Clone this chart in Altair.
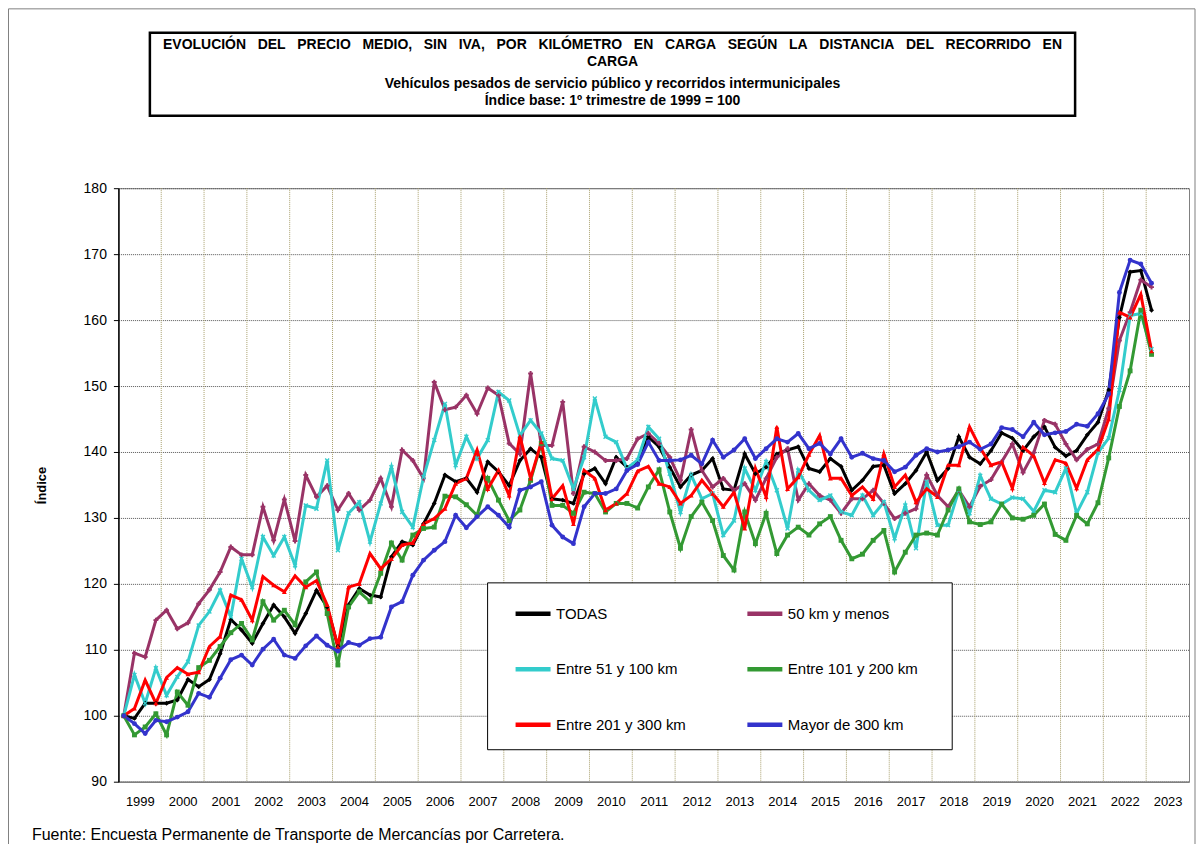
import altair as alt
import pandas as pd

# ---------------- data ----------------
years = list(range(1999, 2024))
quarters = [1, 2, 3, 4]
series_names = ["TODAS", "50 km y menos", "Entre 51 y 100 km",
                "Entre 101 y 200 km", "Entre 201 y 300 km", "Mayor de 300 km"]
series_colors = ["#000000", "#993366", "#33CCCC", "#339933", "#FF0000", "#3333CC"]
series_shapes = ["diamond", "cross",
                 "M-1,-0.6L-0.6,-1L0,-0.4L0.6,-1L1,-0.6L0.4,0L1,0.6L0.6,1L0,0.4L-0.6,1L-1,0.6L-0.4,0Z",
                 "square", "triangle-up", "circle"]

todas = [100, 99.6, 101.9, 101.9, 101.9, 102.4, 105.5, 104.4, 105.5, 109.4,
         114.6, 113.0, 111.0, 114.0, 116.8, 115.0, 112.5, 115.5, 119.0, 116.5,
         110.5, 116.8, 119.3, 118.3, 118.0, 124.1, 126.4, 125.9, 129.1, 132.2,
         136.5, 135.5, 136.0, 133.9, 138.5, 137.0, 134.9, 138.7, 140.5, 139.2,
         132.9, 132.7, 132.2, 136.7, 137.5, 135.2, 139.2, 137.7, 138.2, 142.3,
         140.8, 137.7, 134.7, 136.5, 137.2, 139.0, 134.4, 134.2, 139.7, 136.7,
         137.7, 139.7, 140.3, 140.8, 137.5, 137.0, 139.0, 137.8, 134.2, 135.7,
         137.8, 138.0, 133.7, 135.2, 137.2, 140.0, 135.7, 137.5, 142.3, 139.2,
         138.2, 140.2, 142.9, 142.1, 140.2, 142.3, 143.8, 140.7, 139.4, 140.2,
         142.6, 144.5, 149.4, 160.4, 167.3, 167.5, 161.5]
km50 = [100, 109.5, 108.9, 114.5, 116.0, 113.2, 114.1, 117.0, 119.1, 121.8,
        125.6, 124.4, 124.4, 131.7, 126.6, 132.8, 126.5, 136.5, 133.2, 134.9,
        131.2, 133.7, 131.2, 132.7, 136.0, 131.7, 140.3, 138.7, 136.0, 150.6,
        146.4, 146.8, 148.6, 145.8, 149.7, 148.6, 141.3, 139.7, 151.9, 141.0,
        141.0, 147.6, 133.7, 140.8, 140.0, 138.7, 138.7, 139.0, 142.0, 142.8,
        141.3, 139.2, 135.7, 143.4, 137.2, 134.7, 136.0, 134.2, 135.2, 132.7,
        136.0, 139.2, 140.5, 132.7, 135.2, 133.4, 132.7, 130.7, 132.9, 132.9,
        134.2, 132.2, 129.9, 130.7, 131.4, 136.5, 133.4, 131.7, 134.2, 131.7,
        134.8, 135.8, 138.5, 141.2, 136.9, 139.9, 144.8, 144.2, 141.2, 138.8,
        140.4, 141.2, 146.6, 156.9, 161.2, 166.1, 165.0]
km51_100 = [100, 106.2, 101.9, 107.2, 103.1, 105.9, 108.2, 113.7, 115.8, 119.0,
            115.0, 123.8, 119.5, 127.1, 124.3, 127.1, 122.8, 131.9, 131.4, 138.7,
            125.1, 130.7, 132.4, 126.4, 132.2, 137.7, 130.9, 128.6, 136.2, 141.8,
            147.3, 138.0, 142.3, 139.0, 141.8, 149.1, 147.8, 142.5, 144.8, 142.8,
            139.0, 138.7, 134.4, 139.2, 148.1, 142.3, 141.5, 137.5, 138.8, 143.8,
            142.0, 136.7, 130.9, 136.5, 132.9, 133.7, 127.4, 129.6, 137.5, 134.2,
            138.5, 134.2, 128.4, 137.2, 134.2, 132.7, 133.4, 130.9, 130.4, 133.4,
            130.4, 132.4, 126.9, 131.9, 125.4, 135.5, 128.9, 128.9, 134.2, 130.7,
            136.4, 132.9, 132.1, 133.1, 132.9, 131.0, 134.2, 133.9, 137.5, 130.7,
            133.9, 139.9, 142.1, 149.4, 160.7, 161.0, 155.6]
km101_200 = [100, 97.1, 98.3, 100.3, 97.1, 103.6, 101.6, 107.3, 108.4, 110.5,
             112.6, 114.0, 111.5, 117.3, 114.5, 116.0, 113.8, 120.3, 121.8, 115.5,
             107.7, 116.5, 118.8, 117.3, 121.6, 126.2, 123.6, 127.4, 128.4, 128.6,
             133.3, 133.2, 132.0, 130.4, 136.0, 132.7, 129.6, 131.2, 135.7, 141.3,
             131.9, 131.9, 130.7, 133.9, 133.7, 130.9, 132.2, 132.2, 131.5, 134.7,
             137.3, 130.9, 125.4, 130.2, 132.4, 129.6, 124.3, 122.1, 130.9, 126.1,
             130.7, 124.6, 127.4, 128.6, 127.4, 129.1, 130.2, 126.6, 123.8, 124.5,
             126.6, 128.1, 121.8, 124.8, 127.4, 127.7, 127.4, 131.2, 134.4, 129.4,
             129.0, 129.4, 132.1, 130.0, 129.8, 130.4, 132.1, 127.5, 126.6, 130.4,
             129.1, 132.3, 139.1, 146.9, 152.3, 161.5, 154.8]
km201_300 = [100, 101.1, 105.4, 101.9, 105.8, 107.3, 106.3, 106.6, 110.5, 112.0,
             118.3, 117.6, 114.5, 121.1, 119.8, 118.8, 121.2, 119.5, 120.5, 116.8,
             110.5, 119.5, 120.0, 124.6, 122.3, 123.8, 125.9, 126.2, 129.1, 129.9,
             131.4, 135.2, 136.0, 140.3, 134.4, 137.2, 133.4, 142.4, 136.0, 141.5,
             132.9, 134.9, 129.1, 137.2, 136.0, 131.2, 132.2, 133.7, 137.1, 137.8,
             135.2, 134.7, 132.2, 133.4, 135.7, 133.7, 131.7, 133.9, 128.4, 137.5,
             133.2, 143.8, 134.4, 136.2, 139.6, 142.5, 136.0, 136.0, 133.4, 134.7,
             132.9, 139.7, 134.7, 136.5, 132.4, 134.4, 133.2, 138.0, 138.0, 143.8,
             140.6, 138.0, 138.5, 134.5, 140.7, 139.4, 135.3, 138.8, 138.3, 134.5,
             138.8, 140.4, 145.0, 161.2, 160.4, 163.9, 155.3]
km300 = [100, 98.8, 97.3, 99.3, 99.1, 99.8, 100.6, 103.4, 102.8, 105.7,
         108.5, 109.2, 107.7, 110.1, 111.6, 109.2, 108.7, 110.6, 112.1, 110.7,
         109.8, 111.1, 110.7, 111.7, 111.9, 116.5, 117.3, 121.3, 123.6, 125.1,
         126.4, 130.4, 128.5, 130.2, 131.7, 130.4, 128.6, 134.2, 134.7, 135.5,
         128.9, 127.1, 126.1, 131.7, 133.7, 133.7, 134.4, 137.2, 138.1, 141.5,
         138.7, 138.7, 138.8, 139.5, 138.2, 141.8, 139.2, 140.3, 142.0, 139.0,
         140.5, 142.0, 141.5, 142.8, 140.5, 141.3, 139.7, 142.0, 139.2, 139.8,
         139.0, 138.7, 137.0, 137.7, 139.5, 140.5, 140.0, 140.3, 140.8, 141.5,
         140.4, 141.2, 143.7, 143.4, 142.3, 144.5, 142.6, 142.9, 143.1, 144.2,
         143.9, 145.8, 148.8, 164.2, 169.1, 168.5, 165.6]

y_ticks = [90, 100, 110, 120, 130, 140, 150, 160, 170, 180]

GAP = "\u00a0\u00a0 "
title_words_1 = ["EVOLUCIÓN", "DEL", "PRECIO", "MEDIO,", "SIN", "IVA,", "POR", "KILÓMETRO",
                 "EN", "CARGA", "SEGÚN", "LA", "DISTANCIA", "DEL", "RECORRIDO", "EN"]
title_lines = [
    GAP.join(title_words_1),
    "CARGA",
    "Vehículos pesados de servicio público y recorridos intermunicipales",
    "Índice base: 1º trimestre de 1999 = 100",
]
source_text = "Fuente: Encuesta Permanente de Transporte de Mercancías por Carretera."

# ---------------- table ----------------
rows = []
for name, vals in zip(series_names, [todas, km50, km51_100, km101_200, km201_300, km300]):
    for i, v in enumerate(vals):
        rows.append({"serie": name, "anio": years[0] + i // 4,
                     "trimestre": quarters[i % 4], "valor": v})
df = pd.DataFrame(rows)
df["t"] = df["anio"] + (df["trimestre"] - 0.5) / 4

grid_df = pd.DataFrame({"t": years[1:]})

# ---------------- layout ----------------
W, H = 1071.5, 594
FONT = "Liberation Sans, Arial, sans-serif"

xscale = alt.Scale(domain=[years[0], years[-1] + 1], nice=False, zero=False)
xaxis = alt.Axis(values=[y + 0.5 for y in years], labelExpr="'' + floor(datum.value)",
                 grid=False, ticks=False, domainColor="#808080", domainWidth=1.5,
                 labelFont=FONT, labelFontSize=13, labelColor="#000000",
                 labelPadding=14, title=None)
yscale = alt.Scale(domain=[90, 180], nice=False, zero=False)
yaxis = alt.Axis(values=y_ticks, grid=True, gridColor="#555555", gridDash=[1, 1],
                 gridWidth=1, tickSize=5, tickColor="#000000", domainColor="#000000",
                 domainWidth=1.5, labelFont=FONT, labelFontSize=14, labelColor="#000000",
                 labelPadding=7, title="Índice", titleFont=FONT, titleFontSize=13,
                 titleFontWeight="bold", titleColor="#000000", titleX=-76.5,
                 titleY=H / 2, titleAngle=-90, titleBaseline="middle", titleAlign="center")

xenc = alt.X("t:Q", scale=xscale, axis=xaxis)
yenc = alt.Y("valor:Q", scale=yscale, axis=yaxis)

color_scale = alt.Scale(domain=series_names, range=series_colors)

vgrid = alt.Chart(grid_df).mark_rule(color="#A89F6B", strokeDash=[1, 1], strokeWidth=1).encode(
    x=xenc, y=alt.value(0), y2=alt.value(H))

lines = alt.Chart(df).mark_line(strokeWidth=3).encode(
    x=xenc, y=yenc,
    color=alt.Color("serie:N", scale=color_scale, legend=alt.Legend(
        orient="none", legendX=385, legendY=396, columns=2, direction="horizontal",
        title=None, symbolType="stroke", symbolSize=1225, symbolStrokeWidth=4.5,
        labelFont=FONT, labelFontSize=15, labelColor="#000000", labelOffset=3,
        padding=10, rowPadding=26.5, columnPadding=51, labelLimit=300)))

point_layers = [
    alt.Chart(df).transform_filter(alt.datum.serie == name).mark_point(
        filled=True, size=24, opacity=1, shape=shp, color=col).encode(x=xenc, y=yenc)
    for name, col, shp in zip(series_names, series_colors, series_shapes)
]

one = alt.Data(values=[{"k": 1}])

legend_box = alt.Chart(one).mark_rect(fill="#FFFFFF", stroke="#000000", strokeWidth=1).encode(
    x=alt.value(369.5), x2=alt.value(834.5), y=alt.value(395), y2=alt.value(562))

title_box = alt.Chart(one).mark_rect(fill="#FFFFFF", stroke="#000000", strokeWidth=2.5).encode(
    x=alt.value(31.5), x2=alt.value(957.5), y=alt.value(-155.5), y2=alt.value(-72.5))

title_y = [-143, -126, -104, -87]
title_layers = [
    alt.Chart(one).mark_text(text=txt, font=FONT, fontSize=14, fontWeight="bold",
                             color="#000000", align="center", baseline="middle").encode(
        x=alt.value(494.5), y=alt.value(ty))
    for txt, ty in zip(title_lines, title_y)
]

source = alt.Chart(one).mark_text(text=source_text, font=FONT, fontSize=16, color="#000000",
                                  align="left", baseline="middle").encode(
    x=alt.value(-86.5), y=alt.value(647))

outer = alt.Chart(one).mark_rect(fill=None, stroke="#808080", strokeWidth=1).encode(
    x=alt.value(-110), x2=alt.value(1077.5), y=alt.value(-179.5), y2=alt.value(700))

chart = alt.layer(outer, vgrid, lines, *point_layers, legend_box, title_box, *title_layers,
                  source).properties(
    width=W, height=H,
    autosize=alt.AutoSizeParams(type="none"),
    padding={"left": 110.5, "top": 180, "right": 7, "bottom": 62},
    background="#FFFFFF",
).configure_view(stroke="#808080", strokeWidth=1)

chart.save("out.html", embed_options={"renderer": "svg", "actions": False})
